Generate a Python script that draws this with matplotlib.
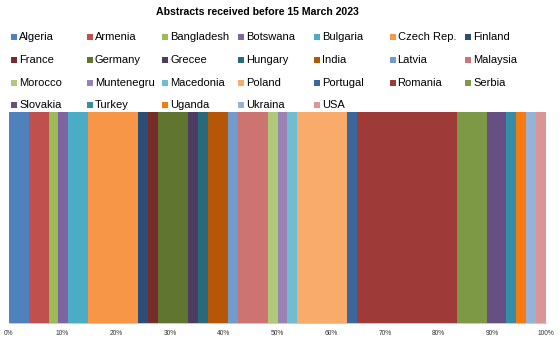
import matplotlib
matplotlib.use("Agg")
import matplotlib.pyplot as plt
from matplotlib.patches import Rectangle
from matplotlib.ticker import PercentFormatter

countries = ["Algeria", "Armenia", "Bangladesh", "Botswana", "Bulgaria", "Czech Rep.", "Finland",
             "France", "Germany", "Grecee", "Hungary", "India", "Latvia", "Malaysia",
             "Morocco", "Muntenegru", "Macedonia", "Poland", "Portugal", "Romania", "Serbia",
             "Slovakia", "Turkey", "Uganda", "Ukraina", "USA"]
abstracts = [2, 2, 1, 1, 2, 5, 1,
             1, 3, 1, 1, 2, 1, 3,
             1, 1, 1, 5, 1, 10, 3,
             2, 1, 1, 1, 1]
colors = ["#4F81BD", "#C0504D", "#9BBB59", "#8064A2", "#4BACC6", "#F79646", "#2C4D75",
          "#772C2A", "#5F7530", "#4D3B62", "#276A7C", "#B65708", "#729ACA", "#CD7371",
          "#AFC97A", "#9983B5", "#6FBDD1", "#F9AB6B", "#3A679C", "#9E3B38", "#7E9945",
          "#664F83", "#358EA6", "#F57A10", "#95B3D7", "#D99694"]
ticks = list(range(0, 101, 10))

plt.rcParams['font.family'] = ['Liberation Sans', 'DejaVu Sans']

W, H = 560, 341
fig = plt.figure(figsize=(W / 100, H / 100), dpi=100)
fig.patch.set_facecolor('white')

# plot area in pixels: left 8.7, right 546.3, top 112.3, bottom 322.7
ax = fig.add_axes([8.7 / W, 1 - 322.7 / H, (546.3 - 8.7) / W, (322.7 - 112.3) / H])

total = sum(abstracts)
left = 0.0
for name, n, c in zip(countries, abstracts, colors):
    share = n / total * 100
    ax.barh(0, share, left=left, height=1.0, color=c, edgecolor='none', label=name)
    left += share

ax.set_xlim(0, 100)
ax.set_ylim(-0.5, 0.5)
ax.set_xticks(ticks)
ax.xaxis.set_major_formatter(PercentFormatter(decimals=0))
ax.tick_params(axis='x', length=0, labelsize=4.8, pad=5, colors='#333333')
ax.set_yticks([])
for s in ['top', 'right', 'left']:
    ax.spines[s].set_visible(False)
ax.spines['bottom'].set_color('#BFBFBF')
ax.spines['bottom'].set_linewidth(0.6)

fig.text(257 / W, 1 - 12 / H, "Abstracts received before 15 March 2023",
         ha='center', va='center', fontsize=7.6, fontweight='bold')

# legend laid out in fixed-width columns, row by row
col_x0, col_dx = 11.0, 75.7
row_y = [37.3, 60.3, 82.7, 105.3]
sq = 6.0
for i, (name, c) in enumerate(zip(countries, colors)):
    row, col = divmod(i, 7)
    x = col_x0 + col * col_dx
    y = row_y[row]
    fig.patches.append(Rectangle((x / W, 1 - (y + sq / 2) / H), sq / W, sq / H,
                                 transform=fig.transFigure, color=c, lw=0))
    fig.text((x + 8) / W, 1 - y / H, name, ha='left', va='center', fontsize=8.0)

fig.savefig("out.png", dpi=100)
